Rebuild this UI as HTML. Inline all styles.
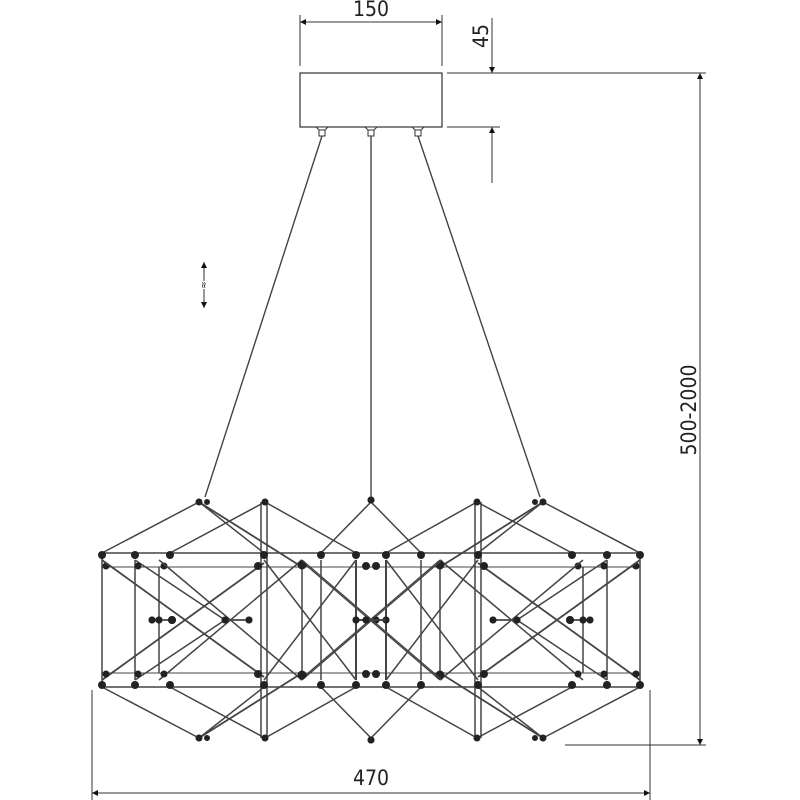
<!DOCTYPE html>
<html><head><meta charset="utf-8"><style>
html,body{margin:0;padding:0;background:#fff;}
svg{display:block;}
text{font-family:"DejaVu Sans Condensed","Liberation Sans Narrow","Liberation Sans",sans-serif;fill:#222;}
</style></head><body>
<svg width="800" height="800" viewBox="0 0 800 800" xmlns="http://www.w3.org/2000/svg">
<defs>
<marker id="ar" viewBox="0 0 10 10" refX="10" refY="5" markerWidth="10" markerHeight="6" orient="auto-start-reverse" markerUnits="userSpaceOnUse">
<path d="M0,0 L10,5 L0,10 z" fill="#111"/></marker>
<g id="q" stroke="#444" stroke-width="1.5" fill="none">
 <line x1="371" y1="553" x2="640" y2="553"/>
 <line x1="371" y1="567" x2="640" y2="567" stroke-width="0.9"/>
 <line x1="640" y1="553" x2="640" y2="620"/>
 <line x1="607" y1="560" x2="607" y2="620"/>
 <line x1="583" y1="567" x2="583" y2="620"/>
 <line x1="475" y1="502" x2="475" y2="620"/>
 <line x1="481" y1="502" x2="481" y2="620"/>
 <line x1="440" y1="560" x2="440" y2="620"/>
 <line x1="421" y1="560" x2="421" y2="620"/>
 <line x1="386" y1="560" x2="386" y2="620" stroke-width="2"/>
 <line x1="543" y1="502" x2="640" y2="553"/>
 <line x1="543" y1="502" x2="478" y2="553"/>
 <line x1="543" y1="502" x2="440" y2="567" stroke-width="1.8"/>
 <line x1="477" y1="502" x2="572" y2="553"/>
 <line x1="477" y1="502" x2="386" y2="553"/>
 <line x1="371" y1="502" x2="421" y2="553"/>
 <line x1="478" y1="563" x2="640" y2="680" stroke-width="1.8"/>
 <line x1="440" y1="560" x2="583" y2="680"/>
 <line x1="386" y1="560" x2="478" y2="680"/>
 <line x1="300" y1="560" x2="440" y2="680" stroke-width="1.3"/>
 <line x1="607" y1="560" x2="517" y2="620"/>
 <line x1="493" y1="620" x2="517" y2="620"/>
 <line x1="570" y1="620" x2="590" y2="620"/>
 <line x1="356" y1="620" x2="386" y2="620"/>
 <g fill="#222" stroke="#222" stroke-width="1">
  <circle cx="543" cy="502" r="3"/><circle cx="535" cy="502" r="2.5"/>
  <circle cx="477" cy="502" r="3"/><circle cx="371" cy="500" r="3"/>
  <circle cx="640" cy="555" r="3.5"/><circle cx="636" cy="566" r="3"/>
  <circle cx="607" cy="555" r="3.5"/><circle cx="604" cy="566" r="3"/>
  <circle cx="572" cy="555" r="3.5"/><circle cx="578" cy="566" r="3"/>
  <circle cx="478" cy="555" r="3.5"/><circle cx="484" cy="566" r="3.5"/>
  <circle cx="440" cy="565" r="4"/><circle cx="421" cy="555" r="3.5"/>
  <circle cx="386" cy="555" r="3.5"/><circle cx="376" cy="566" r="3.5"/>
  <circle cx="493" cy="620" r="3"/><circle cx="517" cy="620" r="3"/>
  <circle cx="570" cy="620" r="3.5"/><circle cx="583" cy="620" r="3"/><circle cx="590" cy="620" r="3"/>
  <circle cx="386" cy="620" r="3"/><circle cx="376" cy="620" r="3"/>
 </g>
</g>
</defs>

<use href="#q"/>
<use href="#q" transform="matrix(-1 0 0 1 742 0)"/>
<use href="#q" transform="matrix(1 0 0 -1 0 1240)"/>
<use href="#q" transform="matrix(-1 0 0 -1 742 1240)"/>

<rect x="300" y="73" width="142" height="54" fill="#fff" stroke="#333" stroke-width="1.2"/>
<g fill="#fff" stroke="#333" stroke-width="1">
 <rect x="319" y="130" width="6" height="6"/><rect x="368" y="130" width="6" height="6"/><rect x="415" y="130" width="6" height="6"/>
 <path d="M316,127 L328,127 L325,130 L319,130z"/><path d="M365,127 L377,127 L374,130 L368,130z"/><path d="M412,127 L424,127 L421,130 L415,130z"/>
</g>
<g stroke="#444" stroke-width="1.4" fill="none">
 <line x1="322" y1="136" x2="205" y2="497"/>
 <line x1="371" y1="136" x2="371" y2="497"/>
 <line x1="418" y1="136" x2="540" y2="497"/>
</g>

<g stroke="#333" stroke-width="1" fill="none">
 <line x1="300" y1="15" x2="300" y2="66"/>
 <line x1="442" y1="15" x2="442" y2="66"/>
 <line x1="300" y1="22" x2="442" y2="22" marker-start="url(#ar)" marker-end="url(#ar)"/>
 <line x1="447" y1="73" x2="706" y2="73"/>
 <line x1="447" y1="127" x2="500" y2="127"/>
 <line x1="492" y1="18" x2="492" y2="73" marker-end="url(#ar)"/>
 <line x1="492" y1="183" x2="492" y2="127" marker-end="url(#ar)"/>
 <line x1="700" y1="73" x2="700" y2="745" marker-start="url(#ar)" marker-end="url(#ar)"/>
 <line x1="565" y1="745" x2="706" y2="745"/>
 <line x1="92" y1="690" x2="92" y2="800"/>
 <line x1="650" y1="690" x2="650" y2="800"/>
 <line x1="92" y1="793" x2="650" y2="793" marker-start="url(#ar)" marker-end="url(#ar)"/>
 <line x1="204" y1="262" x2="204" y2="308" marker-start="url(#ar)" marker-end="url(#ar)"/>
</g>
<rect x="200" y="281" width="8" height="8" fill="#fff"/>
<text x="204" y="285" font-size="10" text-anchor="middle" transform="rotate(-90 204 285)" dominant-baseline="middle">≈</text>
<text x="371" y="16" font-size="21" text-anchor="middle">150</text>
<text x="371" y="785" font-size="21" text-anchor="middle">470</text>
<text x="0" y="0" font-size="21" text-anchor="middle" transform="translate(488,36) rotate(-90)">45</text>
<text x="0" y="0" font-size="21" text-anchor="middle" transform="translate(696,410) rotate(-90)">500-2000</text>
</svg>
</body></html>
